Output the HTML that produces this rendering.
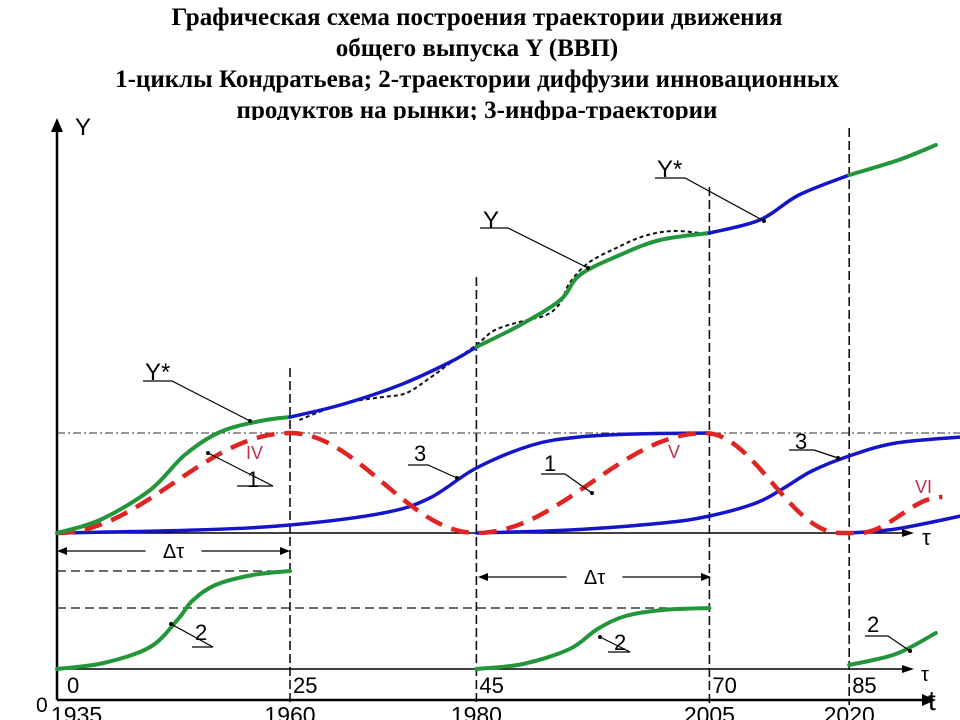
<!DOCTYPE html>
<html><head><meta charset="utf-8"><style>
html,body{margin:0;padding:0;background:#fff;width:960px;height:720px;overflow:hidden}
#title{position:absolute;left:0;top:0;width:960px;height:118px;overflow:hidden;font-family:"Liberation Serif","Noto Serif CJK SC",serif;font-weight:bold;font-size:25px;text-align:center;line-height:31px;color:#000}
#title div{position:relative;left:-3px;white-space:nowrap}
svg{position:absolute;left:0;top:0}
text{font-family:"Liberation Sans","DejaVu Sans",sans-serif}
</style></head><body>
<div id="title" style="padding-top:2px">
<div>Графическая схема построения траектории движения</div>
<div>общего выпуска Y (ВВП)</div>
<div>1-циклы Кондратьева; 2-траектории диффузии инновационных</div>
<div>продуктов на рынки; 3-инфра-траектории</div>
</div>
<svg id="c" width="960" height="720"></svg>
<script>
// ---- data (years / relative levels) ----
const yearTicks=[1935,1960,1980,2005,2020];
const tauTicks=["0","25","45","70","85"];
const ystarG1Years=[1935,1939.6,1945,1948.7,1952.5,1956.8,1960];
const ystarG1Vals=[0,0.13,0.43,0.78,1.01,1.12,1.16];
const ystarB1Years=[1960,1965.4,1971.8,1977.2,1980];
const ystarB1Vals=[1.16,1.28,1.48,1.71,1.86];
const ystarG2Years=[1980,1984.7,1989,1991.1,1995.4,1999.7,2005];
const ystarG2Vals=[1.86,2.08,2.33,2.58,2.78,2.93,3.0];
const ystarB2Years=[2005,2010.4,2014.6,2020];
const ystarB2Vals=[3.0,3.13,3.38,3.58];
const ystarG3Years=[2020,2025.3,2029.3];
const ystarG3Vals=[3.58,3.73,3.88];
const yDotYears=[1961,1964,1967,1970,1972.5,1975,1977.5,1980,1982,1985,1987.5,1989,1990,1992,1995,1998,2001,2004];
const yDotVals=[1.13,1.24,1.32,1.36,1.40,1.55,1.72,1.88,2.03,2.12,2.18,2.30,2.50,2.70,2.85,2.97,3.02,3.0];
const cycleYears=[1935,1960,1980,2004.5,2019,2021,2030];
const cycleVals=[0,1,0,1,0,0,0.36];
const infra1Years=[1935,1950,1960,1970,1975,1980,1986,1991,1997,2005];
const infra1Vals=[0,0.03,0.08,0.2,0.35,0.65,0.88,0.96,0.99,1.0];
const infra2Years=[1980,1990,2000,2005,2010,2013,2016,2020,2025,2032];
const infra2Vals=[0,0.03,0.1,0.17,0.3,0.45,0.62,0.77,0.9,0.96];
const infra3Years=[2020,2025,2032];
const infra3Vals=[0,0.04,0.17];
const diff1Years=[1935,1940,1945,1948,1949.5,1952,1956,1960];
const diff1Vals=[0,0.06,0.22,0.5,0.68,0.84,0.94,0.98];
const diff2Years=[1980,1985,1990,1993,1996,2000,2005];
const diff2Vals=[0,0.05,0.2,0.4,0.53,0.59,0.61];
const diff3Years=[2020,2025,2029.3];
const diff3Vals=[0.04,0.15,0.36];
// ---- scales ----
const X=y=>57+(y-1935)*9.32;
const YU=v=>533-v*100;
const YL=v=>669-v*100;
const svg=document.getElementById('c');
const NS='http://www.w3.org/2000/svg';
function add(tag,attrs,txt){const e=document.createElementNS(NS,tag);for(const k in attrs)e.setAttribute(k,attrs[k]);if(txt!==undefined)e.textContent=txt;svg.appendChild(e);return e;}
function smooth(xs,vs,ys){const p=xs.map((x,i)=>[X(x),ys(vs[i])]);let d='M'+p[0][0]+','+p[0][1];
for(let i=0;i<p.length-1;i++){const p0=p[Math.max(0,i-1)],p1=p[i],p2=p[i+1],p3=p[Math.min(p.length-1,i+2)];
d+=' C'+(p1[0]+(p2[0]-p0[0])/6)+','+(p1[1]+(p2[1]-p0[1])/6)+' '+(p2[0]-(p3[0]-p1[0])/6)+','+(p2[1]-(p3[1]-p1[1])/6)+' '+p2[0]+','+p2[1];}return d;}
function cosPath(xs,vs,ys){let d='';for(let i=0;i<xs.length-1;i++){for(let k=0;k<=30;k++){const t=k/30;const yr=xs[i]+(xs[i+1]-xs[i])*t;const v=vs[i]+(vs[i+1]-vs[i])*(1-Math.cos(Math.PI*t))/2;d+=(d?' L':'M')+X(yr).toFixed(1)+','+ys(v).toFixed(1);}}return d;}
const G='#23953a',B='#1414c8',R='#e02424';
let e;
e=add('line',{x1:57,y1:433,x2:960,y2:433,stroke:'#333','stroke-width':1,'stroke-dasharray':'8,3,2,3'});

e=add('line',{x1:57,y1:571,x2:290,y2:571,stroke:'#111','stroke-width':1.2,'stroke-dasharray':'9,5'});

e=add('line',{x1:57,y1:608,x2:711,y2:608,stroke:'#111','stroke-width':1.2,'stroke-dasharray':'9,5'});

const vTops=[368,277,187,128];
[1960,1980,2005,2020].forEach((yr,i)=>{e=add('line',{x1:X(yr),y1:vTops[i],x2:X(yr),y2:705,stroke:'#111','stroke-width':1.6,'stroke-dasharray':'9,4'});
});
function arrowLine(x1,y1,x2,y2,name,w){const l=add('line',{x1,y1,x2,y2,stroke:'#000','stroke-width':w||2});}
arrowLine(57,700,57,130,'y-axis',2.5);add('polygon',{points:'51,132 57,118 63,132',fill:'#000'});
arrowLine(57,700,925,700,'t-axis',2.5);add('polygon',{points:'922,694 936,700 922,706',fill:'#000'});
arrowLine(57,533,905,533,'tau-axis-upper',1.5);add('polygon',{points:'902,529 914,533 902,537',fill:'#000'});
arrowLine(57,669,905,669,'tau-axis-lower',1.5);add('polygon',{points:'902,665 914,669 902,673',fill:'#000'});
[[57,290,551],[478,711,577]].forEach(a=>{const [x1,x2,y]=a;
e=add('line',{x1:x1+2,y1:y,x2:(x1+x2)/2-28,y2:y,stroke:'#000','stroke-width':1.3});
add('line',{x1:(x1+x2)/2+28,y1:y,x2:x2-2,y2:y,stroke:'#000','stroke-width':1.3});
add('polygon',{points:`${x1},${y} ${x1+10},${y-4} ${x1+10},${y+4}`,fill:'#000'});
add('polygon',{points:`${x2},${y} ${x2-10},${y-4} ${x2-10},${y+4}`,fill:'#000'});
e=add('text',{x:(x1+x2)/2,y:y+7,'font-size':20,'text-anchor':'middle'},'Δτ');});
function curve(d,color,w,name,dash){const p=add('path',{d,fill:'none',stroke:color,'stroke-width':w,'stroke-linecap':dash?'butt':'round'});if(dash)p.setAttribute('stroke-dasharray',dash);return p;}
curve(smooth(infra1Years,infra1Vals,YU),B,3.5,'infra-trajectory-1');
curve(smooth(infra2Years,infra2Vals,YU),B,3.5,'infra-trajectory-2');
curve(smooth(infra3Years,infra3Vals,YU),B,3.5,'infra-trajectory-3');
curve(cosPath(cycleYears,cycleVals,YU),R,4.5,'kondratiev-cycle','18,10');
curve(smooth(yDotYears,yDotVals,YU),'#111',2,'actual-output-y','4,3');
curve(smooth(ystarG1Years,ystarG1Vals,YU),G,4,'ystar-segment-1');
curve(smooth(ystarB1Years,ystarB1Vals,YU),B,3.5,'ystar-segment-2');
curve(smooth(ystarG2Years,ystarG2Vals,YU),G,4,'ystar-segment-3');
curve(smooth(ystarB2Years,ystarB2Vals,YU),B,3.5,'ystar-segment-4');
curve(smooth(ystarG3Years,ystarG3Vals,YU),G,4,'ystar-segment-5');
curve(smooth(diff1Years,diff1Vals,YL),G,4,'diffusion-curve-1');
curve(smooth(diff2Years,diff2Vals,YL),G,4,'diffusion-curve-2');
curve(smooth(diff3Years,diff3Vals,YL),G,4,'diffusion-curve-3');
yearTicks.forEach((yr,i)=>{e=add('text',{x:X(yr)+(i==0?-6:0),y:723,'font-size':23,'text-anchor':i==0?'start':'middle'},String(yr));});
tauTicks.forEach((t,i)=>{e=add('text',{x:X(yearTicks[i])+(i==0?10:3),y:693,'font-size':22},t);});
function lbl(x,y,t,name,size,color,anchor){const el=add('text',{x,y,'font-size':size||22,fill:color||'#000','text-anchor':anchor||'start'},t);}
lbl(36,712,'0','origin-label',21);
lbl(75,135,'Y','y-axis-title',24);
lbl(922,545,'τ','tau-label-upper',22);
lbl(921,681,'τ','tau-label-lower',20);
lbl(928,710,'t','t-axis-title',28);
lbl(246,459,'IV','cycle-iv-label',18,'#c0304a');
lbl(668,458,'V','cycle-v-label',18,'#c0304a');
lbl(915,493,'VI','cycle-vi-label',18,'#c0304a');
function leader(tx,ty,t,ux1,ux2,uy,ax,ay,name,size){lbl(tx,ty,t,name,size||22);add('polyline',{points:`${ux1},${uy} ${ux2},${uy} ${ax},${ay}`,fill:'none',stroke:'#000','stroke-width':1.2});
add('circle',{cx:ax,cy:ay,r:2,fill:'#000'});}
leader(145,380,'Y*',143,172,381,250,421,'ystar-label-left',24);
leader(247,487,'1',237,273,486,208,453,'cycle-label-1a');
leader(414,461,'3',408,428,465,457,478,'infra-label-3a');
leader(544,471,'1',541,565,474,592,493,'cycle-label-1b');
leader(795,449,'3',789,814,450,838,458,'infra-label-3b');
leader(483,228,'Y',480,508,228,588,268,'y-label',24);
leader(657,177,'Y*',655,685,178,764,221,'ystar-label-right',24);
leader(195,640,'2',192,213,647,171,624,'diffusion-label-2a');
leader(614,650,'2',608,630,652,600,637,'diffusion-label-2b');
leader(867,632,'2',865,888,636,910,651,'diffusion-label-2c');
</script>
</body></html>
